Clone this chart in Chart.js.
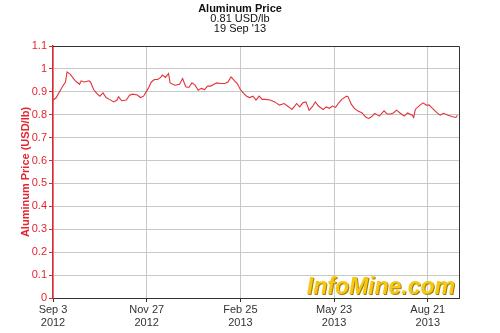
<!DOCTYPE html>
<html lang="en">
<head>
    <meta charset="UTF-8">
    <title>Aluminum Price</title>
    <style>
        html, body { margin: 0; padding: 0; background: #fff; }
        #wrap { width: 500px; height: 333px; }
    </style>
</head>
<body>
    <div id="wrap"><canvas id="myChart"></canvas></div>

    <script src="https://cdn.jsdelivr.net/npm/chart.js"></script>
    <script>
        // trading-day index since Sep 3 2012, and price in USD/lb
        const days = [0, 2, 6, 8, 9, 11, 14, 17, 18, 20, 23, 24, 26, 28, 30, 32, 34, 36, 39, 41,
            42, 44, 47, 49, 51, 54, 56, 58, 60, 61, 63, 65, 67, 69, 70, 72, 74, 75, 78, 81,
            83, 85, 87, 89, 91, 93, 95, 97, 99, 101, 103, 105, 107, 110, 112, 114, 116, 118, 120, 122,
            124, 126, 128, 130, 132, 134, 136, 139, 142, 145, 148, 151, 153, 155, 156, 158, 160, 162, 164, 166,
            168, 170, 173, 175, 177, 179, 181, 183, 185, 188, 189, 191, 193, 195, 198, 200, 202, 204, 206, 209,
            212, 214, 216, 218, 220, 223, 225, 227, 230, 231, 232, 235, 237, 239, 241, 243, 246, 248, 250, 253,
            256, 258, 259];
        const prices = [0.863, 0.874, 0.922, 0.943, 0.987, 0.977, 0.950, 0.933, 0.948, 0.943, 0.948, 0.943, 0.910, 0.893, 0.881, 0.895, 0.875, 0.867, 0.856, 0.864,
            0.878, 0.861, 0.864, 0.885, 0.890, 0.886, 0.875, 0.881, 0.904, 0.915, 0.943, 0.954, 0.954, 0.963, 0.973, 0.963, 0.980, 0.939, 0.929, 0.933,
            0.958, 0.922, 0.919, 0.939, 0.929, 0.907, 0.915, 0.910, 0.925, 0.925, 0.933, 0.939, 0.936, 0.936, 0.943, 0.965, 0.950, 0.936, 0.910, 0.893,
            0.881, 0.875, 0.881, 0.864, 0.881, 0.867, 0.867, 0.864, 0.856, 0.842, 0.849, 0.834, 0.823, 0.840, 0.849, 0.834, 0.852, 0.856, 0.820, 0.834,
            0.856, 0.838, 0.823, 0.834, 0.828, 0.838, 0.832, 0.852, 0.867, 0.881, 0.878, 0.846, 0.828, 0.817, 0.808, 0.791, 0.784, 0.791, 0.806, 0.794,
            0.817, 0.803, 0.803, 0.808, 0.820, 0.803, 0.794, 0.808, 0.798, 0.788, 0.823, 0.842, 0.852, 0.842, 0.842, 0.828, 0.808, 0.798, 0.806, 0.798,
            0.791, 0.788, 0.798];

        const tickDays = [0, 60, 120, 180, 240];
        const tickLabels = [['Sep 3', '2012'], ['Nov 27', '2012'], ['Feb 25', '2013'], ['May 23', '2013'], ['Aug 21', '2013']];
        const titleLines = ['Aluminum Price', '0.81 USD/lb', "19 Sep '13"];

        const RED = '#e3262f';
        const FONT = "'Liberation Sans', Arial, sans-serif";

        const points = days.map((d, i) => ({ x: d, y: prices[i] }));

        const extras = {
            id: 'extras',
            beforeDatasetsDraw(chart) {
                const { ctx, chartArea: a } = chart;
                ctx.save();
                // watermark
                ctx.font = "italic bold 23px " + FONT;
                ctx.textAlign = 'right';
                ctx.textBaseline = 'alphabetic';
                ctx.fillStyle = '#a88000';
                ctx.fillText('InfoMine.com', a.right - 3, a.bottom - 3);
                ctx.fillStyle = '#f5c818';
                ctx.fillText('InfoMine.com', a.right - 4, a.bottom - 4);
                ctx.restore();
            },
            afterDraw(chart) {
                const { ctx, chartArea: a } = chart;
                ctx.save();
                // top and right frame
                ctx.strokeStyle = '#333';
                ctx.lineWidth = 1;
                ctx.beginPath();
                ctx.moveTo(a.left, a.top + 0.5);
                ctx.lineTo(a.right + 0.5, a.top + 0.5);
                ctx.lineTo(a.right + 0.5, a.bottom);
                ctx.stroke();
                // title block
                ctx.fillStyle = '#111';
                ctx.textAlign = 'center';
                ctx.textBaseline = 'middle';
                ctx.font = "bold 11px " + FONT;
                ctx.fillText(titleLines[0], 240, 9);
                ctx.font = "11px " + FONT;
                ctx.fillText(titleLines[1], 240, 19);
                ctx.fillText(titleLines[2], 240, 29);
                ctx.restore();
            }
        };

        const ctx = document.getElementById('myChart').getContext('2d');
        new Chart(ctx, {
            type: 'line',
            data: {
                datasets: [{
                    data: points,
                    borderColor: '#e2323c',
                    borderWidth: 1.1,
                    pointRadius: 0,
                    tension: 0,
                    fill: false
                }]
            },
            options: {
                responsive: true,
                maintainAspectRatio: false,
                animation: false,
                layout: { padding: { top: 46, right: 41, left: 0, bottom: 0 } },
                plugins: {
                    legend: { display: false },
                    tooltip: { enabled: false }
                },
                scales: {
                    x: {
                        type: 'linear',
                        min: 0,
                        max: 260,
                        afterBuildTicks(scale) {
                            scale.ticks = tickDays.map(v => ({ value: v }));
                        },
                        afterFit(scale) { scale.height = 35; },
                        ticks: {
                            color: '#333',
                            font: { family: FONT, size: 11 },
                            padding: 1,
                            maxRotation: 0,
                            autoSkip: false,
                            callback(v) {
                                const i = tickDays.indexOf(v);
                                return i >= 0 ? tickLabels[i] : '';
                            }
                        },
                        grid: { color: '#c8c8c8', tickColor: '#333', tickLength: 4 },
                        border: { color: '#333' }
                    },
                    y: {
                        min: 0,
                        max: 1.1,
                        afterFit(scale) { scale.width = 53; },
                        ticks: {
                            stepSize: 0.1,
                            color: RED,
                            font: { family: FONT, size: 11 },
                            padding: 2,
                            callback(v) { return Number(v.toFixed(1)).toString(); }
                        },
                        title: {
                            display: true,
                            text: 'Aluminum Price (USD/lb)',
                            color: RED,
                            font: { family: FONT, size: 11, weight: 'bold' },
                            padding: { top: 19, bottom: 0 }
                        },
                        grid: { color: '#c8c8c8', tickColor: RED, tickLength: 4 },
                        border: { color: RED, width: 1.5 }
                    }
                }
            },
            plugins: [extras]
        });
    </script>
</body>
</html>
